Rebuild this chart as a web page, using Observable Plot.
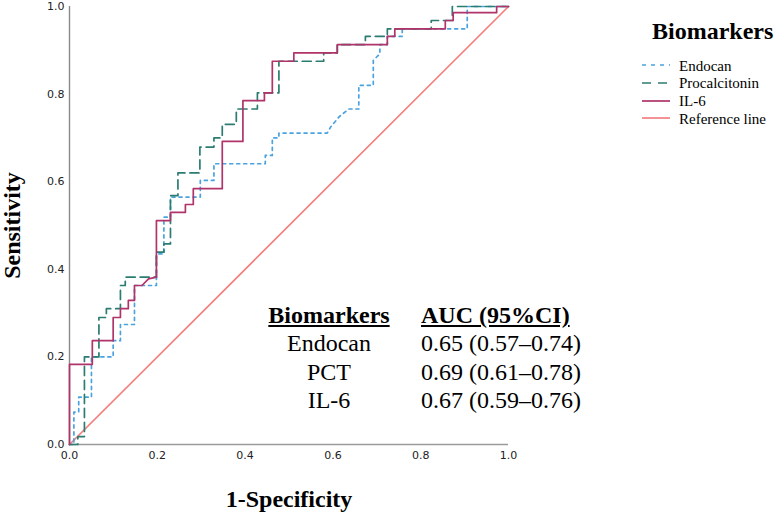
<!DOCTYPE html>
<html>
<head>
<meta charset="utf-8">
<script src="https://cdn.jsdelivr.net/npm/d3@7"></script>
<script src="https://cdn.jsdelivr.net/npm/@observablehq/plot@0.6"></script>
<style>
  html, body { margin: 0; padding: 0; background: white; }
  #wrap { position: relative; width: 775px; height: 515px; overflow: hidden; }
  .serif { font-family: "Liberation Serif", "Times New Roman", serif; color: #000; }
  .abs { position: absolute; white-space: nowrap; }
</style>
</head>
<body>
<div id="wrap"></div>
<script>
// ---- data ----
const xTicks = [0, 0.2, 0.4, 0.6, 0.8, 1.0];
const yTicks = [0, 0.2, 0.4, 0.6, 0.8, 1.0];

const seriesNames = ["Endocan", "Procalcitonin", "IL-6", "Reference line"];
const seriesColors = ["#4aa3df", "#2b7d72", "#b0336a", "#f47f7f"];
const seriesDash = ["3,4", "9,5", null, null];

const endocanFpr = [0, 0.01, 0.01, 0.021, 0.021, 0.05, 0.05, 0.0995, 0.0995, 0.116, 0.116, 0.148, 0.148, 0.198, 0.198, 0.215, 0.215, 0.23, 0.23, 0.298, 0.298, 0.329, 0.329, 0.446, 0.446, 0.462, 0.462, 0.477, 0.477, 0.587, 0.595, 0.614, 0.636, 0.659, 0.659, 0.692, 0.692, 0.707, 0.707, 0.724, 0.724, 0.758, 0.758, 0.906, 0.906, 1];
const endocanTpr = [0, 0, 0.074, 0.074, 0.108, 0.108, 0.2, 0.2, 0.237, 0.237, 0.274, 0.274, 0.363, 0.363, 0.435, 0.435, 0.519, 0.519, 0.565, 0.565, 0.603, 0.603, 0.641, 0.641, 0.66, 0.66, 0.70, 0.70, 0.711, 0.711, 0.725, 0.748, 0.766, 0.766, 0.82, 0.82, 0.877, 0.892, 0.913, 0.913, 0.932, 0.932, 0.949, 0.949, 1, 1];

const pctFpr = [0, 0.019, 0.019, 0.034, 0.034, 0.067, 0.067, 0.084, 0.084, 0.116, 0.116, 0.127, 0.127, 0.198, 0.198, 0.215, 0.215, 0.23, 0.23, 0.247, 0.247, 0.297, 0.297, 0.329, 0.329, 0.348, 0.348, 0.38, 0.38, 0.428, 0.428, 0.477, 0.477, 0.579, 0.579, 0.61, 0.61, 0.674, 0.674, 0.724, 0.724, 0.824, 0.824, 0.872, 0.872, 1];
const pctTpr = [0, 0, 0.018, 0.018, 0.2, 0.2, 0.29, 0.29, 0.31, 0.31, 0.363, 0.363, 0.382, 0.382, 0.439, 0.439, 0.458, 0.458, 0.568, 0.568, 0.62, 0.62, 0.679, 0.679, 0.70, 0.70, 0.731, 0.731, 0.766, 0.766, 0.803, 0.803, 0.875, 0.875, 0.894, 0.894, 0.913, 0.913, 0.932, 0.932, 0.949, 0.949, 0.968, 0.968, 1, 1];

const il6Fpr = [0, 0, 0.052, 0.052, 0.0995, 0.0995, 0.116, 0.116, 0.134, 0.134, 0.148, 0.148, 0.165, 0.18, 0.198, 0.198, 0.23, 0.23, 0.264, 0.264, 0.282, 0.282, 0.348, 0.348, 0.395, 0.395, 0.444, 0.444, 0.462, 0.462, 0.511, 0.511, 0.61, 0.61, 0.724, 0.724, 0.741, 0.741, 0.856, 0.856, 0.874, 0.874, 0.973, 0.973, 1];
const il6Tpr = [0, 0.183, 0.183, 0.237, 0.237, 0.29, 0.29, 0.31, 0.31, 0.329, 0.329, 0.363, 0.363, 0.378, 0.382, 0.511, 0.511, 0.53, 0.53, 0.548, 0.548, 0.584, 0.584, 0.692, 0.692, 0.785, 0.785, 0.803, 0.803, 0.875, 0.875, 0.894, 0.894, 0.913, 0.913, 0.932, 0.932, 0.949, 0.949, 0.968, 0.968, 0.986, 0.986, 1, 1];

const refFpr = [0, 1];
const refTpr = [0, 1];

const tableHeader = ["Biomarkers", "AUC (95%CI)"];
const tableNames = ["Endocan", "PCT", "IL-6"];
const tableAuc = ["0.65 (0.57–0.74)", "0.69 (0.61–0.78)", "0.67 (0.59–0.76)"];
const legendTitle = "Biomarkers";
const xLabel = "1-Specificity";
const yLabel = "Sensitivity";

// ---- build ----
const toRows = (xs, ys) => xs.map((x, i) => ({x, y: ys[i]}));
const curves = [
  toRows(endocanFpr, endocanTpr),
  toRows(pctFpr, pctTpr),
  toRows(il6Fpr, il6Tpr),
  toRows(refFpr, refTpr)
];
const drawOrder = [3, 0, 1, 2];

const serif = "'Liberation Serif', 'Times New Roman', serif";

const chart = Plot.plot({
  width: 775,
  height: 515,
  marginLeft: 69,
  marginRight: 267,
  marginTop: 6,
  marginBottom: 71,
  style: {fontFamily: "'DejaVu Sans', Verdana, sans-serif", fontSize: "11px", color: "#222", background: "transparent"},
  x: {domain: [0, 1]},
  y: {domain: [0, 1]},
  marks: [
    Plot.axisX({ticks: xTicks, tickSize: 0, tickPadding: 7, tickFormat: d3.format(".1f"), label: null}),
    Plot.axisY({ticks: yTicks, tickSize: 0, tickPadding: 5, tickFormat: d3.format(".1f"), label: null}),
    Plot.ruleY([0], {stroke: "#9a9a9a", strokeWidth: 1.6}),
    Plot.ruleX([0], {stroke: "#8a8a8a", strokeWidth: 1.4}),
    ...drawOrder.map(i => Plot.line(curves[i], {
      x: "x", y: "y",
      stroke: seriesColors[i],
      strokeWidth: 1.7,
      strokeDasharray: seriesDash[i] || undefined,
      curve: "linear"
    })),
    Plot.text([xLabel], {text: d => d, frameAnchor: "bottom", dy: 62, fontSize: 24, fontWeight: "bold", fontFamily: serif, fill: "black"}),
    Plot.text([yLabel], {text: d => d, frameAnchor: "left", textAnchor: "middle", lineAnchor: "middle", dx: -57, rotate: -90, fontSize: 24, fontWeight: "bold", fontFamily: serif, fill: "black"})
  ]
});

const wrap = document.getElementById("wrap");
wrap.appendChild(chart);
chart.style.position = "absolute";
chart.style.left = "0px";
chart.style.top = "0px";

function addText(txt, opts) {
  const d = document.createElement("div");
  d.className = "abs serif";
  d.textContent = txt;
  d.style.fontSize = opts.size + "px";
  d.style.lineHeight = opts.size + "px";
  if (opts.bold) d.style.fontWeight = "bold";
  if (opts.underline) d.style.textDecoration = "underline";
  d.style.top = (opts.baseline - 0.891 * opts.size - (opts.size * 0.107) / 2 + 1) + "px";
  if (opts.center != null) {
    d.style.left = opts.center + "px";
    d.style.transform = "translateX(-50%)";
  } else {
    d.style.left = opts.left + "px";
  }
  wrap.appendChild(d);
  return d;
}

// Table
addText(tableHeader[0], {size: 24, bold: true, underline: true, baseline: 325, center: 329});
addText(tableHeader[1], {size: 24, bold: true, underline: true, baseline: 325, left: 421});
tableNames.forEach((n, i) => {
  addText(n, {size: 24, baseline: 353 + i * 28.5, center: 329});
  addText(tableAuc[i], {size: 24, baseline: 353 + i * 28.5, left: 421});
});

// Legend
addText(legendTitle, {size: 24, bold: true, baseline: 41, left: 652});
seriesNames.forEach((n, i) => {
  const base = 71.7 + i * 17.9;
  const sw = document.createElementNS("http://www.w3.org/2000/svg", "svg");
  sw.setAttribute("width", 30);
  sw.setAttribute("height", 6);
  sw.style.position = "absolute";
  sw.style.left = "641px";
  sw.style.top = (base - 10) + "px";
  const ln = document.createElementNS("http://www.w3.org/2000/svg", "line");
  ln.setAttribute("x1", 1); ln.setAttribute("x2", 29);
  ln.setAttribute("y1", 3); ln.setAttribute("y2", 3);
  ln.setAttribute("stroke", seriesColors[i]);
  ln.setAttribute("stroke-width", 1.7);
  if (seriesDash[i]) ln.setAttribute("stroke-dasharray", i === 0 ? "4,5" : "9,7");
  sw.appendChild(ln);
  wrap.appendChild(sw);
  addText(n, {size: 15, baseline: base, left: 679});
});
</script>
</body>
</html>
